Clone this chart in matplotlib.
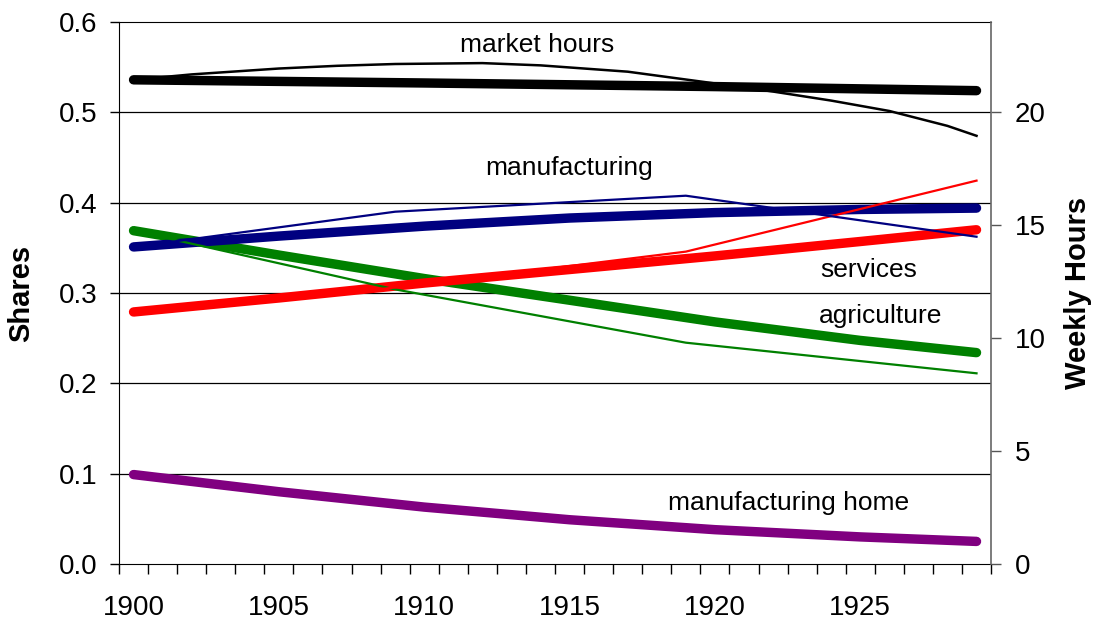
import matplotlib.pyplot as plt
from matplotlib.ticker import FixedLocator

plt.rcParams['font.family'] = ['Liberation Sans', 'DejaVu Sans']

# model (thick) series, shares
mod_years = [1900, 1905, 1910, 1915, 1920, 1925, 1929]
manuf_model = [0.351, 0.363, 0.374, 0.383, 0.389, 0.3925, 0.394]
agri_model = [0.369, 0.342, 0.316, 0.292, 0.268, 0.2475, 0.234]
serv_model = [0.279, 0.2945, 0.311, 0.326, 0.341, 0.357, 0.370]
home_model = [0.099, 0.080, 0.063, 0.049, 0.038, 0.030, 0.025]

# data (thin) series, census years
data_years = [1900, 1909, 1919, 1929]
manuf_data = [0.351, 0.390, 0.4077, 0.3623]
agri_data = [0.369, 0.304, 0.245, 0.2111]
serv_data = [0.279, 0.306, 0.3458, 0.4244]

# market hours, weekly hours (right axis)
hours_model_years = [1900, 1910, 1920, 1929]
hours_model = [21.44, 21.30, 21.14, 20.96]
hours_data_years = [1900, 1902, 1905, 1907, 1909, 1912, 1914, 1917, 1920, 1922, 1924, 1926, 1928, 1929]
hours_data = [21.44, 21.68, 21.94, 22.06, 22.14, 22.18, 22.08, 21.80, 21.28, 20.92, 20.52, 20.06, 19.40, 18.96]

labels = ["market hours", "manufacturing", "services", "agriculture", "manufacturing home"]
label_x = [1913.9, 1915.0, 1925.3, 1925.7, 1922.55]
label_y = [0.5746, 0.4384, 0.3255, 0.2745, 0.0675]

fig = plt.figure(figsize=(10.98, 6.25), dpi=100)
ax = fig.add_axes([0.1084, 0.0976, 0.7942, 0.8672])
ax2 = ax.twinx()

thick = dict(lw=6.8, solid_capstyle='round', solid_joinstyle='round')
thin = dict(lw=1.6)

ax.plot(mod_years, agri_model, color='#008000', **thick)
ax.plot(mod_years, serv_model, color='#ff0000', **thick)
ax.plot(mod_years, manuf_model, color='#000080', **thick)
ax.plot(mod_years, home_model, color='#800080', **thick)
ax.plot(data_years, agri_data, color='#008000', **thin)
ax.plot(data_years, serv_data, color='#ff0000', **thin)
ax.plot(data_years, manuf_data, color='#000080', **thin)

ax2.plot(hours_model_years, hours_model, color='black', **thick)
ax2.plot(hours_data_years, hours_data, color='black', lw=1.8)

for t, x, y in zip(labels, label_x, label_y):
    ax.text(x, y, t, ha='center', va='center', fontsize=19)

ax.set_xlim(1899.5, 1929.5)
ax.set_ylim(0, 0.6)
ax2.set_ylim(0, 24)

ax.set_xticks([1900, 1905, 1910, 1915, 1920, 1925])
ax.xaxis.set_minor_locator(FixedLocator([1899.5 + k for k in range(31)]))
ax.tick_params(axis='x', which='major', length=0, pad=22, labelsize=20)
ax.tick_params(axis='x', which='minor', length=7, width=1, direction='out')

ax.set_yticks([0.0, 0.1, 0.2, 0.3, 0.4, 0.5, 0.6])
ax.set_yticklabels(['0.0', '0.1', '0.2', '0.3', '0.4', '0.5', '0.6'])
ax.tick_params(axis='y', length=6.5, width=1, pad=9, labelsize=20)
ax2.set_yticks([0, 5, 10, 15, 20])
ax2.tick_params(axis='y', length=7, width=1, pad=10, labelsize=20, color='#555555')

for y in [0.1, 0.2, 0.3, 0.4, 0.5]:
    ax.axhline(y, color='black', lw=0.9, zorder=0.5)

for s in ['top', 'left', 'bottom']:
    ax.spines[s].set_color('black')
    ax2.spines[s].set_visible(False)
ax.spines['right'].set_visible(False)
ax2.spines['right'].set_color('#666666')
ax2.spines['right'].set_linewidth(1.2)

fig.text(21 / 1098, 1 - 293 / 625, "Shares", rotation=90, ha='center', va='center',
         fontsize=21, fontweight='bold')
fig.text(1078 / 1098, 1 - 293 / 625, "Weekly Hours", rotation=90, ha='center', va='center',
         fontsize=21, fontweight='bold')

fig.savefig('out.png', dpi=100)
